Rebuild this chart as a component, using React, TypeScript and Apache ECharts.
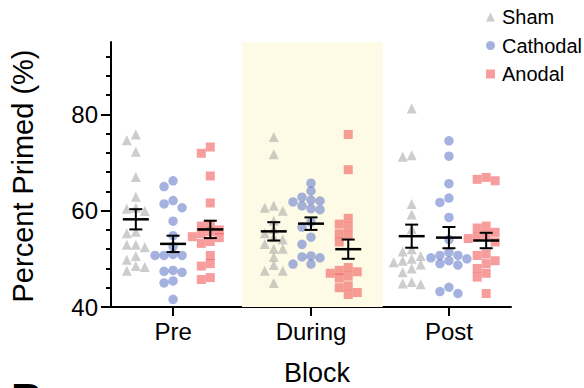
import React, { useEffect, useRef } from "react";
import * as echarts from "echarts";

// Blocks on the x axis
const blocks = ["Pre", "During", "Post"];

// Percent primed per participant, one array per condition and block
const shamPre = [75.8, 74.6, 72.2, 67.0, 62.9, 60.6, 60.4, 59.9, 55.6, 55.3, 52.9, 52.9, 52.4, 50.6, 49.8, 48.5, 48.3, 47.5];
const shamDuring = [75.3, 71.7, 61.0, 60.6, 60.0, 57.9, 56.2, 55.3, 54.5, 54.0, 53.1, 52.1, 52.1, 50.4, 48.7, 47.5, 47.5, 45.0];
const shamPost = [81.2, 71.5, 71.2, 61.4, 59.2, 56.2, 52.0, 51.5, 50.6, 50.0, 49.6, 49.3, 48.8, 48.0, 47.2, 45.2, 44.9, 44.7];

const cathodalPre = [66.2, 65.0, 62.1, 61.4, 60.6, 57.8, 54.8, 52.6, 50.9, 50.7, 50.7, 50.7, 47.6, 47.4, 47.2, 45.4, 45.0, 41.6];
const cathodalDuring = [65.7, 64.1, 62.8, 62.2, 62.0, 61.8, 61.0, 60.4, 60.2, 57.6, 56.6, 54.5, 53.0, 50.6, 50.4, 50.2, 48.9, 48.9];
const cathodalPost = [74.5, 71.3, 65.6, 62.6, 61.7, 58.6, 54.0, 51.4, 50.7, 50.7, 50.2, 50.0, 49.6, 49.0, 48.7, 44.1, 43.2, 42.8];

const anodalPre = [73.2, 71.9, 67.2, 61.6, 57.2, 56.8, 56.0, 55.6, 55.2, 54.6, 54.4, 53.6, 53.2, 50.7, 49.0, 48.5, 46.1, 45.7];
const anodalDuring = [75.8, 68.5, 58.4, 57.2, 56.6, 55.2, 54.8, 53.5, 48.2, 47.6, 47.3, 47.0, 46.4, 46.0, 44.4, 44.0, 43.0, 42.6];
const anodalPost = [66.9, 66.5, 66.2, 56.8, 56.4, 55.5, 55.0, 54.6, 54.2, 53.5, 51.0, 50.7, 49.6, 49.0, 48.0, 47.0, 46.2, 42.8];

// Group means and standard errors (Pre, During, Post)
const shamMean = [58.2, 55.7, 54.7];
const shamSem = [2.1, 1.9, 2.4];
const cathodalMean = [53.1, 57.3, 54.4];
const cathodalSem = [1.7, 1.3, 2.2];
const anodalMean = [56.1, 52.0, 53.8];
const anodalSem = [1.8, 2.0, 1.6];

// Axis ticks
const yLabelTicks = [40, 60, 80];
const yMinorTicks = [44, 48, 52, 56, 64, 68, 72, 76, 84, 88, 92];

// Stimulation window (During block)
const stimWindow = [1.5, 2.52];

const FONT = "'Liberation Sans', Arial, Helvetica, sans-serif";
const W = 584;
const H = 388;
const GRID = { left: 111, right: 73, top: 42, bottom: 81 };
const X_MIN = 0.55;
const X_MAX = 3.45;
const Y_MIN = 40;
const Y_MAX = 95;
const PX_PER_X = (W - GRID.left - GRID.right) / (X_MAX - X_MIN);
const PX_PER_Y = (H - GRID.top - GRID.bottom) / (Y_MAX - Y_MIN);

const GROUP_OFFSET = 0.27;

// Spread overlapping dots sideways (simple beeswarm in pixel space)
function swarm(values: number[], center: number): number[][] {
  const stepPx = 9;
  const gapPx = 7.5;
  const order = values.map((_, i) => i).sort((a, b) => values[b] - values[a]);
  const placed: { y: number; dx: number }[] = [];
  const out: number[][] = new Array(values.length);
  for (const i of order) {
    const yPx = values[i] * PX_PER_Y;
    let chosen = 0;
    for (let k = 0; k < 20; k++) {
      const slot = k === 0 ? 0 : (k % 2 === 1 ? -1 : 1) * Math.ceil(k / 2);
      const dx = slot * stepPx;
      const clash = placed.some(
        (p) => Math.abs(p.y - yPx) < gapPx && Math.abs(p.dx - dx) < stepPx * 0.9
      );
      if (!clash) {
        chosen = dx;
        break;
      }
    }
    placed.push({ y: yPx, dx: chosen });
    out[i] = [center + chosen / PX_PER_X, values[i]];
  }
  return out;
}

function pointsFor(groups: number[][], offset: number): number[][] {
  return groups.flatMap((vals, b) => swarm(vals, b + 1 + offset));
}

function meanRows(means: number[], sems: number[], offset: number): number[][] {
  return means.map((m, b) => [b + 1 + offset, m, sems[b]]);
}

const meanBar = (params: any, api: any) => {
  const x = api.value(0);
  const m = api.value(1);
  const s = api.value(2);
  const c = api.coord([x, m]);
  const hi = api.coord([x, m + s]);
  const lo = api.coord([x, m - s]);
  const halfW = 13;
  const capW = 6.5;
  const stroke = { stroke: "#000", lineWidth: 2 };
  return {
    type: "group",
    children: [
      { type: "line", shape: { x1: c[0] - halfW, y1: c[1], x2: c[0] + halfW, y2: c[1] }, style: { stroke: "#000", lineWidth: 2.5 } },
      { type: "line", shape: { x1: c[0], y1: hi[1], x2: c[0], y2: lo[1] }, style: stroke },
      { type: "line", shape: { x1: c[0] - capW, y1: hi[1], x2: c[0] + capW, y2: hi[1] }, style: stroke },
      { type: "line", shape: { x1: c[0] - capW, y1: lo[1], x2: c[0] + capW, y2: lo[1] }, style: stroke },
    ],
  };
};

const SHAM_COLOR = "rgba(165,165,165,0.7)";
const CATH_COLOR = "rgba(95,118,200,0.7)";
const ANOD_COLOR = "rgba(240,80,80,0.7)";

export default function App() {
  const ref = useRef<HTMLDivElement>(null);

  useEffect(() => {
    document.body.style.margin = "0";
    if (!ref.current) return;
    const chart = echarts.init(ref.current, null, { renderer: "svg" });

    const axisLineStyle = { color: "#000", width: 2 };

    chart.setOption({
      animation: false,
      backgroundColor: "#fff",
      textStyle: { fontFamily: FONT },
      grid: { ...GRID, containLabel: false },
      legend: {
        orient: "vertical",
        left: 481,
        top: 2,
        itemWidth: 9,
        itemHeight: 9,
        itemGap: 8.5,
        data: [
          { name: "Sham", icon: "triangle" },
          { name: "Cathodal", icon: "circle" },
          { name: "Anodal", icon: "rect" },
        ],
        textStyle: { fontFamily: FONT, fontSize: 20, color: "#000", lineHeight: 20, padding: [0, 0, 0, 2] },
      },
      xAxis: {
        type: "value",
        min: X_MIN,
        max: X_MAX,
        splitLine: { show: false },
        axisLine: { show: true, lineStyle: axisLineStyle },
        axisTick: { show: true, length: 9, lineStyle: { width: 2, color: "#000" }, customValues: [1, 2, 3] },
        axisLabel: {
          customValues: [1, 2, 3],
          formatter: (v: number) => blocks[Math.round(v) - 1] ?? "",
          fontFamily: FONT,
          fontSize: 24,
          color: "#000",
          margin: 12,
        },
      },
      yAxis: [
        {
          type: "value",
          min: Y_MIN,
          max: Y_MAX,
          splitLine: { show: false },
          axisLine: { show: true, lineStyle: axisLineStyle },
          axisTick: { show: true, length: 10, lineStyle: { width: 2, color: "#000" }, customValues: yLabelTicks },
          axisLabel: { customValues: yLabelTicks, fontFamily: FONT, fontSize: 24, color: "#000", margin: 13 },
        },
        {
          type: "value",
          min: Y_MIN,
          max: Y_MAX,
          position: "left",
          splitLine: { show: false },
          axisLine: { show: false },
          axisTick: { show: true, length: 5, lineStyle: { width: 2, color: "#000" }, customValues: yMinorTicks },
          axisLabel: { show: false },
        },
      ],
      graphic: [
        {
          type: "text",
          x: 23,
          y: 176,
          rotation: Math.PI / 2,
          style: {
            text: "Percent Primed (%)",
            font: `29px ${FONT}`,
            fill: "#000",
            textAlign: "center",
            textVerticalAlign: "middle",
          },
        },
        {
          type: "text",
          x: 317,
          y: 373,
          style: {
            text: "Block",
            font: `27px ${FONT}`,
            fill: "#000",
            textAlign: "center",
            textVerticalAlign: "middle",
          },
        },
        {
          type: "text",
          x: 11,
          y: 377,
          style: {
            text: "B",
            font: `bold 44px ${FONT}`,
            fill: "#000",
            textAlign: "left",
            textVerticalAlign: "top",
          },
        },
      ],
      series: [
        {
          name: "window",
          type: "scatter",
          data: [],
          z: 0,
          silent: true,
          markArea: {
            silent: true,
            itemStyle: { color: "#fdfbe6" },
            data: [[{ coord: [stimWindow[0], Y_MIN] }, { coord: [stimWindow[1], Y_MAX] }]],
          },
        },
        {
          name: "Sham",
          type: "scatter",
          symbol: "triangle",
          symbolSize: 10,
          itemStyle: { color: SHAM_COLOR },
          z: 2,
          data: pointsFor([shamPre, shamDuring, shamPost], -GROUP_OFFSET),
        },
        {
          name: "Cathodal",
          type: "scatter",
          symbol: "circle",
          symbolSize: 9.5,
          itemStyle: { color: CATH_COLOR },
          z: 2,
          data: pointsFor([cathodalPre, cathodalDuring, cathodalPost], 0),
        },
        {
          name: "Anodal",
          type: "scatter",
          symbol: "rect",
          symbolSize: 9,
          itemStyle: { color: ANOD_COLOR },
          z: 2,
          data: pointsFor([anodalPre, anodalDuring, anodalPost], GROUP_OFFSET),
        },
        {
          name: "meanSem",
          type: "custom",
          z: 4,
          silent: true,
          renderItem: meanBar,
          encode: { x: 0, y: 1 },
          data: [
            ...meanRows(shamMean, shamSem, -GROUP_OFFSET),
            ...meanRows(cathodalMean, cathodalSem, 0),
            ...meanRows(anodalMean, anodalSem, GROUP_OFFSET),
          ],
        },
      ],
    });

    return () => chart.dispose();
  }, []);

  return <div ref={ref} style={{ width: W, height: H }} />;
}
